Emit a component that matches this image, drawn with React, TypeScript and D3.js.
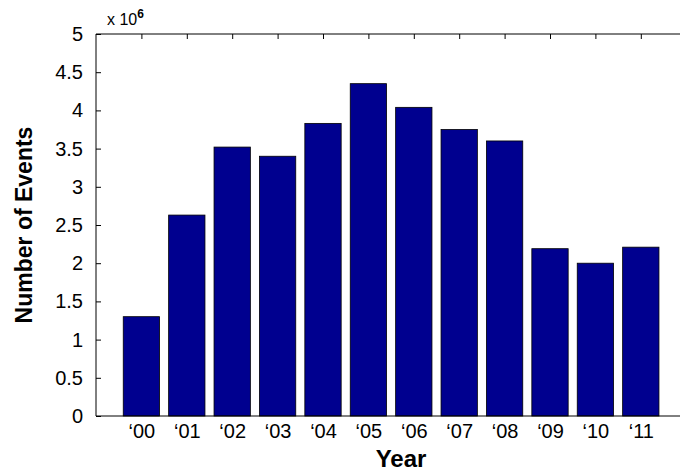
import React, { useEffect, useRef } from "react";
import * as d3 from "d3";

const years = ["00", "01", "02", "03", "04", "05", "06", "07", "08", "09", "10", "11"];
const events = [1.3, 2.63, 3.52, 3.4, 3.83, 4.35, 4.04, 3.75, 3.6, 2.19, 2.0, 2.21]; // x 10^6
const yTicks = [0, 0.5, 1, 1.5, 2, 2.5, 3, 3.5, 4, 4.5, 5];

const W = 680;
const H = 474;
const margin = { top: 34, left: 96, bottom: 58 };

const App: React.FC = () => {
  const svgRef = useRef<SVGSVGElement | null>(null);

  useEffect(() => {
    if (!svgRef.current) return;
    const svg = d3.select(svgRef.current);
    svg.selectAll("*").remove();

    const x = d3.scaleLinear().domain([0, 13]).range([margin.left, margin.left + 13 * 45.4]);
    const y = d3.scaleLinear().domain([0, 5]).range([H - margin.bottom, margin.top]);
    const barW = (x(1) - x(0)) * 0.8;
    const font = "'Liberation Sans', Arial, sans-serif";

    // bars
    svg.append("g")
      .selectAll("rect")
      .data(events)
      .enter()
      .append("rect")
      .attr("x", (_: any, i: number) => x(i + 1) - barW / 2)
      .attr("y", (d: number) => y(d))
      .attr("width", barW)
      .attr("height", (d: number) => y(0) - y(d))
      .style("fill", "#00008f")
      .style("stroke", "#000")
      .style("stroke-width", 0.8);

    // left axis, ticks pointing in
    const left = svg.append("g")
      .attr("transform", `translate(${margin.left},0)`)
      .call(d3.axisLeft(y).tickValues(yTicks).tickSize(-5).tickPadding(13).tickFormat(d3.format("~g")));
    left.select(".domain").remove();
    left.append("line").attr("y1", y(0)).attr("y2", y(5)).attr("stroke", "#000");
    left.selectAll("text").attr("font-family", font).attr("font-size", 20).attr("fill", "#000");

    // top axis, ticks pointing in
    const top = svg.append("g")
      .attr("transform", `translate(0,${margin.top})`)
      .call(d3.axisTop(x).tickValues(d3.range(1, 13)).tickSize(-5).tickFormat(() => ""));
    top.select(".domain").remove();
    top.append("line").attr("x1", x(0)).attr("x2", W).attr("stroke", "#000");

    // bottom axis
    const bottom = svg.append("g")
      .attr("transform", `translate(0,${y(0)})`)
      .call(d3.axisBottom(x).tickValues(d3.range(1, 13)).tickSize(0).tickPadding(8)
        .tickFormat((d: any) => "\u2018" + years[(d as number) - 1]));
    bottom.select(".domain").remove();
    bottom.append("line").attr("x1", x(0)).attr("x2", W).attr("stroke", "#000");
    bottom.selectAll("text").attr("font-family", font).attr("font-size", 20).attr("fill", "#000");

    // exponent
    const ex = svg.append("text")
      .attr("x", 107)
      .attr("y", 25)
      .attr("font-family", font)
      .attr("font-size", 16);
    ex.append("tspan").text("x 10");
    ex.append("tspan").attr("dy", -7).attr("font-size", 12).attr("font-weight", "bold").text("6");

    // axis labels
    svg.append("text")
      .attr("x", 401)
      .attr("y", 467)
      .attr("text-anchor", "middle")
      .attr("font-family", font)
      .attr("font-size", 24)
      .attr("font-weight", "bold")
      .text("Year");

    svg.append("text")
      .attr("transform", `translate(32,${(y(0) + y(5)) / 2}) rotate(-90)`)
      .attr("text-anchor", "middle")
      .attr("font-family", font)
      .attr("font-size", 23)
      .attr("font-weight", "bold")
      .text("Number of Events");
  }, []);

  return (
    <svg
      ref={svgRef}
      width={W}
      height={H}
      style={{ position: "absolute", left: 0, top: 0, background: "#fff" }}
    />
  );
};

export default App;
